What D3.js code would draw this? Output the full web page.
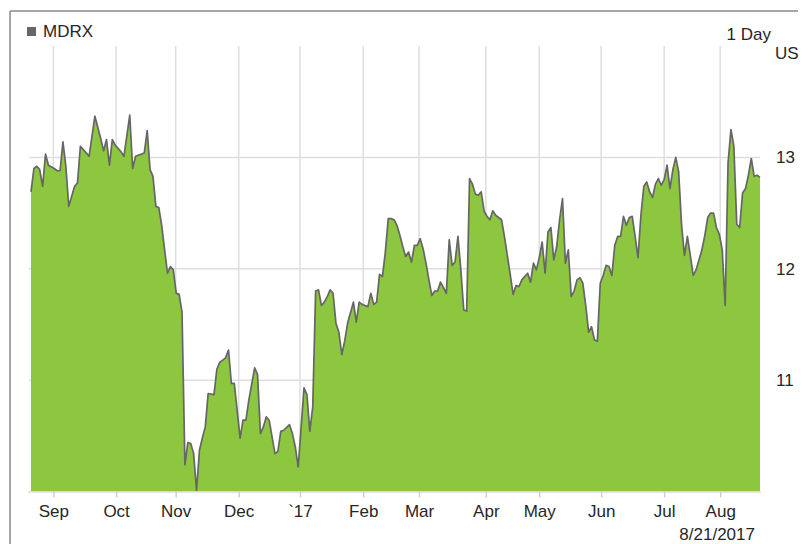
<!DOCTYPE html>
<html>
<head>
<meta charset="utf-8">
<script src="https://cdn.jsdelivr.net/npm/d3@7"></script>
<style>
  html, body { margin: 0; padding: 0; background: #fff; }
  svg { display: block; }
  text { font-family: "Liberation Sans", Arial, sans-serif; fill: #262626; }
</style>
</head>
<body>
<svg id="chart" width="808" height="544"></svg>
<script>
// MDRX daily close, one year of trading sessions (session 0 = first day shown)
const session = [
  0,1,2,3,4,5,6,8,9,10,11,12,13,15,16,17,19,20,22,24,25,26,27,28,29,31,32,34,35,36,39,40,
  41,42,43,44,45,46,47,48,49,50,51,52,53,54,55,56,57,58,59,60,61,63,64,65,66,67,68,69,70,
  72,73,74,75,77,78,79,80,81,82,84,85,86,87,89,90,91,92,94,95,96,97,98,99,100,
  101,102,103,104,105,106,107,108,109,111,112,113,114,115,116,117,118,119,120,
  121,122,123,124,125,126,127,128,129,130,131,132,133,134,135,136,137,138,139,140,
  141,142,143,144,145,146,147,148,149,150,151,152,153,154,155,156,157,158,159,160,
  161,162,163,164,165,166,167,168,169,170,171,172,173,174,175,176,177,178,179,180,
  181,182,183,184,185,186,187,188,189,190,191,192,193,194,195,196,197,198,199,200,
  201,202,203,204,205,206,207,208,209,210,211,212,213,214,215,216,217,218,219,220,
  221,222,223,224,225,226,227,228,229,230,231,232,233,234,235,236,237,238,239,240,
  241,242,243,244,245,246,247,248,249,250,251
];
const close = [
  12.69,12.90,12.92,12.89,12.74,13.03,12.93,12.90,12.88,12.88,13.14,12.92,12.56,12.74,12.77,13.10,13.04,13.01,13.37,13.17,13.06,13.16,12.93,13.16,13.11,13.05,13.01,13.38,12.90,13.01,13.04,13.24,
  12.89,12.83,12.56,12.55,12.39,12.17,11.96,12.02,11.99,11.78,11.77,11.61,10.24,10.44,10.43,10.34,10.01,10.37,10.48,10.58,10.88,10.87,11.10,11.16,11.18,11.20,11.27,10.97,10.97,
  10.48,10.64,10.64,10.82,11.11,11.05,10.52,10.58,10.67,10.64,10.34,10.36,10.54,10.55,10.60,10.52,10.40,10.22,10.93,10.87,10.54,10.76,11.80,11.81,11.67,
  11.70,11.75,11.81,11.78,11.51,11.43,11.23,11.35,11.51,11.70,11.52,11.70,11.68,11.67,11.66,11.78,11.68,11.70,11.95,
  11.93,12.15,12.45,12.45,12.44,12.39,12.30,12.20,12.11,12.15,12.06,12.21,12.21,12.27,12.18,12.05,11.90,11.76,11.80,11.80,
  11.88,11.83,11.78,12.26,12.03,12.06,12.29,11.99,11.63,11.62,12.81,12.76,12.67,12.66,12.69,12.52,12.47,12.44,12.52,12.48,
  12.46,12.44,12.29,12.12,11.95,11.77,11.85,11.84,11.90,11.93,11.96,11.88,12.05,11.99,12.10,12.24,11.96,12.33,12.37,12.08,
  12.20,12.44,12.63,12.05,12.17,11.75,11.80,11.90,11.92,11.87,11.67,11.43,11.48,11.36,11.35,11.87,11.94,12.03,12.02,11.94,
  12.21,12.29,12.29,12.47,12.39,12.46,12.47,12.29,12.10,12.48,12.74,12.78,12.69,12.64,12.76,12.81,12.75,12.80,12.93,12.72,
  12.89,13.00,12.87,12.39,12.12,12.29,12.12,11.94,11.99,12.08,12.17,12.30,12.46,12.50,12.50,12.37,12.31,12.17,11.67,12.95,
  13.25,13.10,12.40,12.37,12.68,12.72,12.84,12.99,12.83,12.84,12.82
];

// Month axis: label and the session where each month begins
const monthLabels = ["Sep","Oct","Nov","Dec","`17","Feb","Mar","Apr","May","Jun","Jul","Aug"];
const monthStart  = [7.7, 29.3, 49.8, 71.5, 92.6, 114.4, 133.6, 156.6, 175, 196.3, 218, 237.3];

// Price axis
const priceTicks = [11, 12, 13];
const priceDomain = [10, 14];

const ticker = "MDRX";
const interval = "1 Day";
const currency = "US";
const asOf = "8/21/2017";

const FONT = 17;
const svg = d3.select("#chart");

const x = d3.scaleLinear().domain([0, 251]).range([31, 760]);
const y = d3.scaleLinear().domain(priceDomain).range([491.5, 46]);

// outer frame (top and left edges)
svg.append("line").attr("x1", 10).attr("x2", 798).attr("y1", 11).attr("y2", 11)
  .attr("stroke", "#a6a6a6").attr("stroke-width", 2);
svg.append("line").attr("x1", 10).attr("x2", 10).attr("y1", 11).attr("y2", 544)
  .attr("stroke", "#a6a6a6").attr("stroke-width", 2);

// grid
const grid = svg.append("g").attr("stroke", "#dedede").attr("stroke-width", 1.5);
grid.selectAll("line.v").data(monthStart).join("line")
  .attr("class", "v")
  .attr("x1", d => x(d)).attr("x2", d => x(d))
  .attr("y1", y(priceDomain[1])).attr("y2", y(priceDomain[0]));
grid.selectAll("line.h").data(priceTicks).join("line")
  .attr("class", "h")
  .attr("x1", x(0) - 2).attr("x2", x(251))
  .attr("y1", d => y(d)).attr("y2", d => y(d));

const pts = session.map((s, i) => ({ s, v: close[i] }));

// filled area
svg.append("path").datum(pts)
  .attr("fill", "#8dc63f")
  .attr("d", d3.area().x(d => x(d.s)).y0(y(priceDomain[0])).y1(d => y(d.v)));

// price line
svg.append("path").datum(pts)
  .attr("fill", "none")
  .attr("stroke", "#666")
  .attr("stroke-width", 1.7)
  .attr("stroke-linejoin", "round")
  .attr("d", d3.line().x(d => x(d.s)).y(d => y(d.v)));

// bottom axis
const xAxis = d3.axisBottom(x)
  .tickValues(monthStart)
  .tickFormat((d, i) => monthLabels[i])
  .tickSize(6)
  .tickPadding(7);
const gx = svg.append("g").attr("transform", `translate(0,${y(priceDomain[0])})`).call(xAxis);
gx.select(".domain").attr("stroke", "#dcdcdc").attr("stroke-width", 1.5)
  .attr("d", `M${x(0) - 3},0.5H${x(251) + 1}`);
gx.selectAll(".tick line").attr("stroke", "#d0d0d0").attr("stroke-width", 1.5);
gx.selectAll(".tick text")
  .attr("font-family", "Liberation Sans, Arial, sans-serif")
  .attr("font-size", FONT).attr("fill", "#262626");

// right price labels
const yAxis = d3.axisRight(y).tickValues(priceTicks).tickSize(0).tickPadding(16)
  .tickFormat(d3.format("d"));
const gy = svg.append("g").attr("transform", `translate(${x(251)},0)`).call(yAxis);
gy.select(".domain").remove();
gy.selectAll(".tick text")
  .attr("font-family", "Liberation Sans, Arial, sans-serif")
  .attr("font-size", FONT).attr("fill", "#262626");

// legend
svg.append("rect").attr("x", 27).attr("y", 27).attr("width", 9).attr("height", 9).attr("fill", "#666");
svg.append("text").attr("x", 43).attr("y", 37).attr("font-size", FONT).text(ticker);

svg.append("text").attr("x", 771).attr("y", 40).attr("text-anchor", "end").attr("font-size", FONT).text(interval);
svg.append("text").attr("x", 775).attr("y", 59).attr("font-size", FONT).text(currency);

svg.append("text").attr("x", 755).attr("y", 540).attr("text-anchor", "end").attr("font-size", FONT).text(asOf);
</script>
</body>
</html>
